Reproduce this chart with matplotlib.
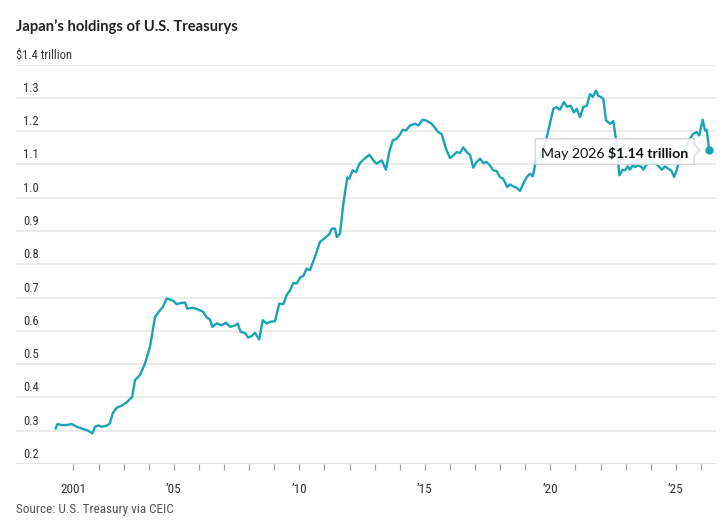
import matplotlib
matplotlib.use('Agg')
import matplotlib.pyplot as plt
import matplotlib.transforms as mtransforms
from matplotlib.patches import Polygon

# Japan's holdings of U.S. Treasurys, trillions of dollars
years = [
	2000.29, 2000.36, 2000.53, 2000.73, 2000.93, 2001.13, 2001.39, 2001.59, 2001.75, 2001.86,
	2001.99, 2002.12, 2002.32, 2002.45, 2002.56, 2002.72, 2002.92, 2003.12, 2003.34, 2003.45,
	2003.65, 2003.85, 2004.05, 2004.25, 2004.45, 2004.55, 2004.71, 2004.85, 2004.98, 2005.11,
	2005.31, 2005.44, 2005.53, 2005.77, 2005.97, 2006.17, 2006.31, 2006.44, 2006.53, 2006.71,
	2006.91, 2007.08, 2007.24, 2007.43, 2007.54, 2007.66, 2007.83, 2007.96, 2008.10, 2008.23,
	2008.40, 2008.54, 2008.70, 2008.83, 2009.03, 2009.20, 2009.36, 2009.49, 2009.63, 2009.76,
	2009.89, 2010.05, 2010.16, 2010.29, 2010.42, 2010.62, 2010.82, 2011.02, 2011.19, 2011.29,
	2011.42, 2011.49, 2011.62, 2011.75, 2011.91, 2011.99, 2012.12, 2012.26, 2012.39, 2012.55,
	2012.79, 2012.95, 2013.08, 2013.28, 2013.45, 2013.58, 2013.72, 2013.88, 2014.01, 2014.12,
	2014.25, 2014.41, 2014.61, 2014.74, 2014.91, 2015.04, 2015.27, 2015.40, 2015.53, 2015.67,
	2015.84, 2016.00, 2016.13, 2016.27, 2016.40, 2016.53, 2016.67, 2016.80, 2016.93, 2017.06,
	2017.20, 2017.33, 2017.46, 2017.59, 2017.73, 2017.86, 2017.99, 2018.12, 2018.28, 2018.39,
	2018.52, 2018.66, 2018.79, 2018.92, 2019.06, 2019.19, 2019.30, 2019.39, 2019.59, 2019.79,
	2019.98, 2020.12, 2020.25, 2020.38, 2020.54, 2020.67, 2020.81, 2020.94, 2021.05, 2021.18,
	2021.31, 2021.45, 2021.58, 2021.69, 2021.82, 2021.91, 2022.04, 2022.11, 2022.22, 2022.38,
	2022.51, 2022.64, 2022.75, 2022.88, 2022.97, 2023.08, 2023.17, 2023.28, 2023.37, 2023.50,
	2023.64, 2023.70, 2023.81, 2023.97, 2024.17, 2024.37, 2024.44, 2024.57, 2024.70, 2024.83,
	2024.93, 2025.03, 2025.10, 2025.32, 2025.56, 2025.69, 2025.83, 2025.93, 2026.07, 2026.16,
	2026.23, 2026.33,
]
holdings = [
	0.307, 0.320, 0.317, 0.317, 0.320, 0.312, 0.305, 0.300, 0.292, 0.312,
	0.316, 0.312, 0.315, 0.322, 0.352, 0.369, 0.375, 0.385, 0.402, 0.452,
	0.467, 0.502, 0.552, 0.642, 0.662, 0.670, 0.697, 0.694, 0.690, 0.680,
	0.684, 0.685, 0.667, 0.669, 0.664, 0.657, 0.640, 0.634, 0.612, 0.622,
	0.617, 0.624, 0.612, 0.616, 0.622, 0.597, 0.594, 0.580, 0.584, 0.594,
	0.574, 0.632, 0.622, 0.627, 0.629, 0.682, 0.680, 0.707, 0.722, 0.744,
	0.742, 0.762, 0.765, 0.787, 0.782, 0.822, 0.867, 0.879, 0.890, 0.907,
	0.907, 0.882, 0.892, 0.981, 1.061, 1.057, 1.082, 1.077, 1.102, 1.114,
	1.129, 1.112, 1.102, 1.112, 1.084, 1.137, 1.172, 1.177, 1.190, 1.204,
	1.202, 1.217, 1.222, 1.217, 1.234, 1.232, 1.222, 1.210, 1.197, 1.191,
	1.147, 1.119, 1.127, 1.137, 1.134, 1.151, 1.137, 1.128, 1.090, 1.107,
	1.117, 1.104, 1.107, 1.097, 1.082, 1.080, 1.062, 1.057, 1.032, 1.040,
	1.034, 1.030, 1.020, 1.042, 1.062, 1.072, 1.064, 1.097, 1.130, 1.160,
	1.222, 1.267, 1.272, 1.264, 1.287, 1.273, 1.276, 1.256, 1.267, 1.242,
	1.272, 1.276, 1.311, 1.303, 1.321, 1.306, 1.301, 1.296, 1.232, 1.222,
	1.230, 1.161, 1.067, 1.084, 1.082, 1.094, 1.084, 1.097, 1.092, 1.097,
	1.092, 1.084, 1.097, 1.110, 1.105, 1.090, 1.084, 1.094, 1.087, 1.080,
	1.062, 1.082, 1.102, 1.140, 1.177, 1.191, 1.197, 1.187, 1.234, 1.202,
	1.204, 1.142,
]

tick_years = list(range(2001, 2027))
label_years = [2001, 2005, 2010, 2015, 2020, 2025]
label_texts = ['2001', '\u201905', '\u201910', '\u201915', '\u201920', '\u201925']
y_levels = [0.2, 0.3, 0.4, 0.5, 0.6, 0.7, 0.8, 0.9, 1.0, 1.1, 1.2, 1.3, 1.4]
latest_month = 'May 2026'

LINE = '#1aa2b6'
GRID = '#ebebeb'
TEXT = '#333333'
narrow = ['Roboto Condensed', 'Lato', 'DejaVu Sans']
lato = ['Lato', 'DejaVu Sans']

W, H = 726, 523
fig = plt.figure(figsize=(W / 100, H / 100), dpi=100)
ax = fig.add_axes([16 / W, (H - 464) / H, 700 / W, (464 - 64.5) / H])

ax.set_xlim(1998.71, 2026.60)
ax.set_ylim(0.2, 1.4)

for s in ax.spines.values():
	s.set_visible(False)

# horizontal grid + value labels sitting on top of each line
for v in y_levels:
	ax.axhline(v, color=GRID if v > 0.2 else '#e0e0e0', lw=1.3, zorder=0)
	if v == 1.4:
		txt = '\\$1.4 trillion'
		xoff = 0
	else:
		txt = '%.1f' % v
		xoff = 7
	ax.annotate(txt, xy=(0, v), xycoords=('axes fraction', 'data'),
		xytext=(xoff, 3), textcoords='offset pixels', ha='left', va='bottom',
		fontsize=9, color=TEXT, family=narrow)

ax.set_yticks([])
ax.set_xticks(tick_years)
ax.set_xticklabels([label_texts[label_years.index(y)] if y in label_years else '' for y in tick_years],
	fontsize=9.5, color=TEXT, family=narrow)
ax.tick_params(axis='x', length=4.5, width=0.8, color='#999999', pad=9)

ax.plot(years, holdings, color=LINE, lw=1.7, solid_joinstyle='round', zorder=3)
ax.plot(years[-1:], holdings[-1:], 'o', color=LINE, ms=5, zorder=4)

# tooltip with an arrow pointing at the latest value
anchor = mtransforms.ScaledTranslation(years[-1], holdings[-1], ax.transData)
box_trans = mtransforms.Affine2D() + anchor
verts = [(-174, 11.7), (-15, 11.7), (-15, 6), (-9.5, 0), (-15, -6), (-15, -14), (-174, -14)]
tip = Polygon(verts, closed=True, transform=box_trans, facecolor='white', alpha=0.88,
	edgecolor='#cfcfcf', lw=0.9, zorder=5)
ax.add_patch(tip)
t1 = ax.annotate(latest_month + ' ', xy=(years[-1], holdings[-1]), xytext=(-168, -7.3),
	textcoords='offset pixels', ha='left', va='baseline', fontsize=10.2, color='#111111',
	family=lato, zorder=6)
ax.annotate('\\$%.2f trillion' % holdings[-1], xy=(1, 0), xycoords=t1, xytext=(0, 0),
	textcoords='offset pixels', ha='left', va='bottom', fontsize=10.2, color='#111111',
	family=lato, fontweight='bold', zorder=6)

fig.text(16 / W, 1 - 27 / H, 'Japan\u2019s holdings of U.S. Treasurys', ha='left', va='center',
	fontsize=10.6, fontweight='bold', color='#222222', family=lato)
fig.text(16 / W, 1 - 509 / H, 'Source: U.S. Treasury via CEIC', ha='left', va='center',
	fontsize=9.5, color='#555555', family=narrow)

fig.savefig('out.png', dpi=100)
